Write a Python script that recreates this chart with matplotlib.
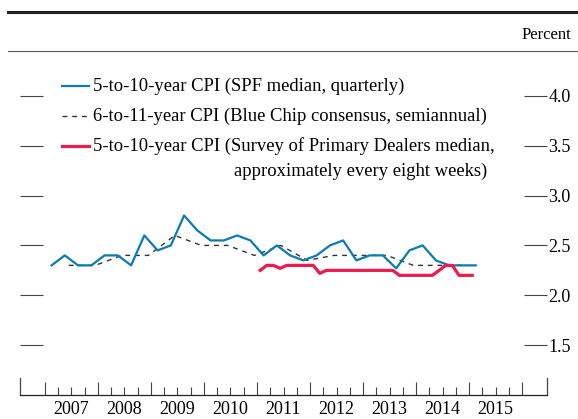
import numpy as np
import matplotlib
matplotlib.use("Agg")
import matplotlib.pyplot as plt
from matplotlib.lines import Line2D

plt.rcParams['font.family'] = ['Liberation Serif', 'DejaVu Serif']

# SPF median, 5-to-10-year CPI, quarterly 2007Q1 - 2015Q1
spf_start = 2007.125
spf = [2.30, 2.40, 2.30, 2.30, 2.40, 2.40, 2.30, 2.60, 2.45, 2.50,
       2.80, 2.65, 2.55, 2.55, 2.60, 2.55, 2.40, 2.50, 2.40, 2.35,
       2.40, 2.50, 2.55, 2.35, 2.40, 2.40, 2.27, 2.45, 2.50, 2.35,
       2.30, 2.30, 2.30]

# Blue Chip consensus, 6-to-11-year CPI, semiannual
bc_start = 2007.45
blue_chip = [2.30, 2.30, 2.40, 2.40, 2.60, 2.50, 2.50, 2.40, 2.50, 2.35,
             2.40, 2.40, 2.40, 2.30, 2.30, 2.30]

# Survey of Primary Dealers median, ~every eight weeks
spd_start = 2011.06
dealers = [2.25, 2.30, 2.30, 2.27, 2.30, 2.30, 2.30, 2.30, 2.30, 2.22,
           2.25, 2.25, 2.25, 2.25, 2.25, 2.25, 2.25, 2.25, 2.25, 2.25,
           2.25, 2.20, 2.20, 2.20, 2.20, 2.20, 2.20, 2.25, 2.30, 2.30,
           2.20, 2.20, 2.20]

years = list(range(2007, 2016))
yticks = [1.5, 2.0, 2.5, 3.0, 3.5, 4.0]

spf_x = spf_start + 0.25 * np.arange(len(spf))
bc_x = bc_start + 0.5 * np.arange(len(blue_chip))
spd_x = spd_start + 0.125 * np.arange(len(dealers))

W, H = 578, 419
fig = plt.figure(figsize=(W / 100, H / 100), dpi=100)
ax = fig.add_axes([20 / W, 1 - 395 / H, 527 / W, 349 / H])

blue = '#0a7bb3'
red = '#ec1a4e'
grey = '#444444'

ax.plot(spf_x, spf, color=blue, lw=1.6, zorder=3)
ax.plot(bc_x, blue_chip, color='#333333', lw=1.0, ls=(0, (3.5, 3.5)), zorder=2)
ax.plot(spd_x, dealers, color=red, lw=2.3, zorder=3)

ax.set_xlim(2006.53, 2016.47)
ax.set_ylim(1.0, 4.5)

# axes frame: only bottom line plus short end marks
ax.spines['top'].set_visible(False)
for s in ['left', 'right']:
    ax.spines[s].set_bounds(1.0, 1.17)
    ax.spines[s].set_color(grey)
    ax.spines[s].set_linewidth(0.9)
ax.spines['bottom'].set_linewidth(0.9)
ax.spines['bottom'].set_color('#222222')

ax.set_xticks(years + [2016])
ax.set_xticks([y + q for y in years for q in (0.25, 0.5, 0.75)], minor=True)
ax.tick_params(axis='x', which='major', direction='in', length=9.5, width=0.8,
               color=grey, labelbottom=False)
ax.tick_params(axis='x', which='minor', direction='in', length=5.8, width=0.8,
               color=grey)

sec = ax.secondary_xaxis('bottom')
sec.set_xticks([y + 0.5 for y in years], [str(y) for y in years])
sec.tick_params(length=0, pad=4, labelsize=13)
sec.spines['bottom'].set_visible(False)

ax.set_yticks(yticks, [f'{v:.1f}' for v in yticks])
ax.tick_params(axis='y', which='major', direction='in', length=16.5, width=0.8,
               color=grey, left=True, right=True, labelleft=False,
               labelright=True, pad=1, labelsize=13)

# header rules and unit
fig.add_artist(Line2D([8 / W, 1], [1 - 11.8 / H] * 2, color='#222222', lw=2.2))
fig.add_artist(Line2D([8 / W, 1], [1 - 51 / H] * 2, color='#555555', lw=0.8))
fig.text(571 / W, 1 - 35 / H, 'Percent', ha='right', va='center', fontsize=12)

# legend
rows = [(86, dict(color=blue, lw=1.6), '5-to-10-year CPI (SPF median, quarterly)'),
        (116, dict(color='#333333', lw=1.0, ls=(0, (3.5, 3.5))),
         '6-to-11-year CPI (Blue Chip consensus, semiannual)'),
        (146, dict(color=red, lw=2.3),
         '5-to-10-year CPI (Survey of Primary Dealers median,')]
for yp, style, label in rows:
    fig.add_artist(Line2D([62 / W, 89 / W], [1 - yp / H] * 2, **style))
    fig.text(93 / W, 1 - yp / H, label, ha='left', va='center', fontsize=13.4)
fig.text(234 / W, 1 - 171 / H, 'approximately every eight weeks)',
         ha='left', va='center', fontsize=13.4)

fig.savefig('out.png', dpi=100)
